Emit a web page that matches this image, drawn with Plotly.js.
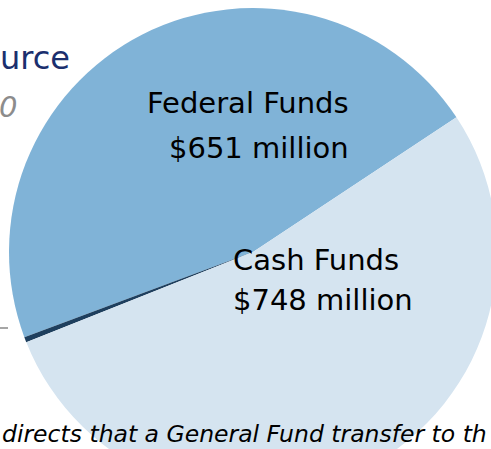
<!DOCTYPE html>
<html><head><meta charset="utf-8">
<script src="https://cdn.plot.ly/plotly-3.0.1.min.js"></script>
<style>
html,body{margin:0;padding:0;overflow:hidden;background:#fff;width:491px;height:449px}
#chart{position:absolute;left:0;top:0;width:506px;height:504px}
</style></head>
<body><div id="chart"></div>
<script>
// Data
const categories = ['Federal Funds', 'General Fund', 'Cash Funds'];
const values = [651, 5, 748];            // $ millions
const valueLabels = ['$651 million', '', '$748 million'];
const titleFragment = 'urce';
const subtitleFragment = '0';
const footnoteText = 'directs that a General Fund transfer to th';

const colors = ['#80b3d7', '#1e3f5e', '#d5e4f0'];
const W = 506, H = 504;
const px = x => x / W;
const py = y => 1 - y / H;
const FONT = '"DejaVu Sans", sans-serif';

// Federal/Cash boundary at 56.5 deg clockwise from 12 o'clock; Federal runs counterclockwise from it
const total = values.reduce((a, b) => a + b, 0);
const rotation = 56.5 - values[0] / total * 360;

const annotations = [
  {text: categories[0], x: px(248), y: py(103), xanchor: 'center'},
  {text: valueLabels[0], x: px(259), y: py(148), xanchor: 'center'},
  {text: categories[2], x: px(231), y: py(260), xanchor: 'left'},
  {text: valueLabels[2], x: px(231), y: py(300), xanchor: 'left'},
].map(a => ({xref: 'paper', yref: 'paper', x: a.x, y: a.y, xanchor: a.xanchor, yanchor: 'middle',
  text: a.text, showarrow: false, font: {family: FONT, size: 29, color: '#000'}}));

annotations.push({xref: 'paper', yref: 'paper', x: px(-2), y: py(58), xanchor: 'left', yanchor: 'middle',
  text: titleFragment, showarrow: false, font: {family: FONT, size: 32, color: '#1b2f6e'}});
annotations.push({xref: 'paper', yref: 'paper', x: px(-3), y: py(107), xanchor: 'left', yanchor: 'middle',
  text: '<i>' + subtitleFragment + '</i>', showarrow: false, font: {family: FONT, size: 29, color: '#8c8c8c'}});
annotations.push({xref: 'paper', yref: 'paper', x: px(0), y: py(434), xanchor: 'left', yanchor: 'middle',
  text: '<i>' + footnoteText + '</i>', showarrow: false, font: {family: FONT, size: 23.5, color: '#000'}});

const data = [{
  type: 'pie',
  labels: categories,
  values: values,
  sort: false,
  direction: 'counterclockwise',
  rotation: rotation,
  marker: {colors: colors, line: {width: 0}},
  textinfo: 'none',
  hoverinfo: 'skip',
  showlegend: false,
  domain: {x: [px(9), px(497)], y: [py(496), py(8)]}
}];

const layout = {
  width: W, height: H,
  margin: {l: 0, r: 0, t: 0, b: 0},
  paper_bgcolor: '#fff',
  showlegend: false,
  annotations: annotations,
  shapes: [{type: 'line', xref: 'paper', yref: 'paper', x0: px(0), x1: px(8), y0: py(328), y1: py(328),
    line: {color: '#a6a6a6', width: 2}}]
};

Plotly.newPlot('chart', data, layout, {displayModeBar: false, staticPlot: true});
</script>
</body></html>
